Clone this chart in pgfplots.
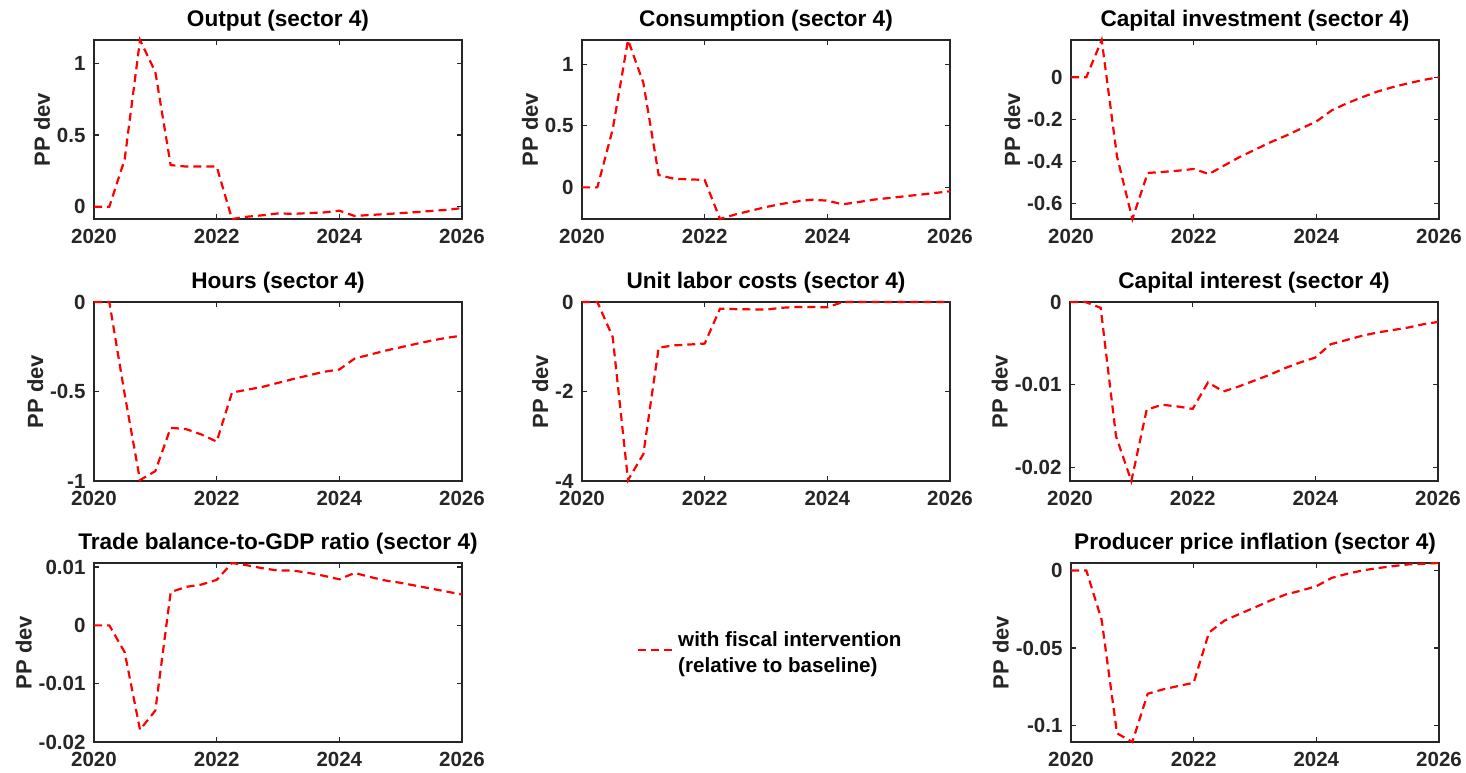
\documentclass[border=0pt]{standalone}
\usepackage{fontspec}
\setmainfont{Liberation Sans}
\usepackage{pgfplots}
\pgfplotsset{compat=1.18}
\definecolor{axcol}{HTML}{262626}
\pgfplotsset{
 panel/.style={
  scale only axis, width=368pt, height=179pt,
  xmin=2020, xmax=2026,
  xtick={2020,2022,2024,2026}, xticklabels={2020,2022,2024,2026},
  scaled ticks=false,
  tick align=inside, major tick length=5pt,
  axis line style={draw=axcol, line width=1.6pt},
  every tick/.style={draw=axcol, line width=1.2pt},
  tick label style={font=\fontsize{20.5}{21}\selectfont\bfseries, text=axcol},
  yticklabel style={xshift=-5pt},
  xticklabel style={yshift=-7pt},
  title style={font=\fontsize{22.6}{23}\selectfont\bfseries, at={(0.5,1)}, anchor=base, yshift=7pt, text=black},
  ylabel={PP dev},
  ylabel style={font=\fontsize{22}{23}\selectfont\bfseries, text=axcol},
  clip=false,
 },
 irf/.style={red, line width=2.2pt, dash pattern=on 8pt off 5pt},
}
\begin{document}
\begin{tikzpicture}
\path[use as bounding box] (0,0) rectangle (1466pt,773pt);
% Output
\begin{axis}[panel, at={(94pt,554pt)}, anchor=south west, title={Output (sector 4)},
 ymin=-0.086, ymax=1.163, ytick={0,0.5,1}, yticklabels={0,0.5,1}]
\addplot[irf] coordinates {(2020,0) (2020.25,0) (2020.5,0.33) (2020.75,1.163) (2021,0.94) (2021.25,0.29) (2021.5,0.28) (2021.75,0.28) (2022,0.28) (2022.25,-0.086) (2022.5,-0.07) (2022.75,-0.06) (2023,-0.047) (2023.25,-0.05) (2023.5,-0.045) (2023.75,-0.04) (2024,-0.028) (2024.25,-0.065) (2024.5,-0.058) (2024.75,-0.052) (2025,-0.045) (2025.25,-0.038) (2025.5,-0.03) (2025.75,-0.022) (2026,-0.01)};
\end{axis}
% Consumption
\begin{axis}[panel, at={(582pt,554pt)}, anchor=south west, title={Consumption (sector 4)},
 ymin=-0.257, ymax=1.197, ytick={0,0.5,1}, yticklabels={0,0.5,1}]
\addplot[irf] coordinates {(2020,0) (2020.25,0) (2020.5,0.47) (2020.75,1.197) (2021,0.85) (2021.25,0.10) (2021.5,0.07) (2021.75,0.065) (2022,0.06) (2022.25,-0.257) (2022.5,-0.22) (2022.75,-0.19) (2023,-0.16) (2023.25,-0.135) (2023.5,-0.115) (2023.75,-0.10) (2024,-0.108) (2024.25,-0.138) (2024.5,-0.12) (2024.75,-0.10) (2025,-0.087) (2025.25,-0.073) (2025.5,-0.06) (2025.75,-0.046) (2026,-0.032)};
\end{axis}
% Capital investment
\begin{axis}[panel, at={(1071pt,554pt)}, anchor=south west, title={Capital investment (sector 4)},
 ymin=-0.675, ymax=0.177, ytick={-0.6,-0.4,-0.2,0}, yticklabels={-0.6,-0.4,-0.2,0}]
\addplot[irf] coordinates {(2020,0) (2020.25,0) (2020.5,0.177) (2020.75,-0.377) (2021,-0.675) (2021.25,-0.456) (2021.5,-0.451) (2021.75,-0.445) (2022,-0.437) (2022.25,-0.461) (2022.5,-0.42) (2022.75,-0.38) (2023,-0.345) (2023.25,-0.31) (2023.5,-0.279) (2023.75,-0.245) (2024,-0.211) (2024.25,-0.158) (2024.5,-0.124) (2024.75,-0.095) (2025,-0.068) (2025.25,-0.047) (2025.5,-0.029) (2025.75,-0.013) (2026,0)};
\end{axis}
% Hours
\begin{axis}[panel, at={(94pt,292pt)}, anchor=south west, title={Hours (sector 4)},
 ymin=-1, ymax=0, ytick={-1,-0.5,0}, yticklabels={-1,-0.5,0}]
\addplot[irf] coordinates {(2020,0) (2020.25,0) (2020.5,-0.515) (2020.75,-0.995) (2021,-0.945) (2021.25,-0.703) (2021.5,-0.71) (2021.75,-0.74) (2022,-0.78) (2022.25,-0.506) (2022.5,-0.49) (2022.75,-0.474) (2023,-0.452) (2023.25,-0.43) (2023.5,-0.41) (2023.75,-0.39) (2024,-0.377) (2024.25,-0.316) (2024.5,-0.294) (2024.75,-0.272) (2025,-0.253) (2025.25,-0.234) (2025.5,-0.216) (2025.75,-0.2) (2026,-0.188)};
\end{axis}
% Unit labor costs
\begin{axis}[panel, at={(582pt,292pt)}, anchor=south west, title={Unit labor costs (sector 4)},
 ymin=-4, ymax=0, ytick={-4,-2,0}, yticklabels={-4,-2,0}]
\addplot[irf] coordinates {(2020,0) (2020.25,0) (2020.5,-0.78) (2020.75,-3.98) (2021,-3.4) (2021.25,-1.02) (2021.5,-0.97) (2021.75,-0.95) (2022,-0.93) (2022.25,-0.15) (2022.5,-0.16) (2022.75,-0.165) (2023,-0.17) (2023.25,-0.13) (2023.5,-0.11) (2023.75,-0.11) (2024,-0.12) (2024.25,0) (2024.5,0) (2024.75,0) (2025,0) (2025.25,0) (2025.5,0) (2025.75,0) (2026,0)};
\end{axis}
% Capital interest
\begin{axis}[panel, at={(1070pt,292pt)}, anchor=south west, title={Capital interest (sector 4)},
 ymin=-0.0216, ymax=0, ytick={-0.02,-0.01,0}, yticklabels={-0.02,-0.01,0}]
\addplot[irf] coordinates {(2020,0) (2020.25,0) (2020.5,-0.0007) (2020.75,-0.0162) (2021,-0.0216) (2021.25,-0.013) (2021.5,-0.0124) (2021.75,-0.0126) (2022,-0.0129) (2022.25,-0.0097) (2022.5,-0.0108) (2022.75,-0.0102) (2023,-0.0095) (2023.25,-0.0088) (2023.5,-0.008) (2023.75,-0.0073) (2024,-0.0067) (2024.25,-0.0051) (2024.5,-0.0046) (2024.75,-0.0041) (2025,-0.0037) (2025.25,-0.0034) (2025.5,-0.0031) (2025.75,-0.0027) (2026,-0.0024)};
\end{axis}
% Trade balance
\begin{axis}[panel, at={(94pt,31pt)}, anchor=south west, title={Trade balance-to-GDP ratio (sector 4)},
 ymin=-0.02, ymax=0.0107, ytick={-0.02,-0.01,0,0.01}, yticklabels={-0.02,-0.01,0,0.01}]
\addplot[irf] coordinates {(2020,0) (2020.25,0) (2020.5,-0.0046) (2020.75,-0.0179) (2021,-0.0146) (2021.25,0.0057) (2021.5,0.0066) (2021.75,0.007) (2022,0.0078) (2022.25,0.0107) (2022.5,0.0103) (2022.75,0.0098) (2023,0.0094) (2023.25,0.0094) (2023.5,0.009) (2023.75,0.0085) (2024,0.0079) (2024.25,0.009) (2024.5,0.0083) (2024.75,0.0077) (2025,0.0073) (2025.25,0.0068) (2025.5,0.0063) (2025.75,0.0058) (2026,0.0053)};
\end{axis}
% Legend (empty hidden axis)
\begin{axis}[scale only axis, width=368pt, height=179pt, at={(582pt,31pt)}, anchor=south west,
 hide axis, xmin=0, xmax=1, ymin=0, ymax=1,
 legend style={at={(axis description cs:0.149,0.545)}, anchor=west, draw=none, fill=none,
   inner sep=0pt, font=\fontsize{20.6}{26}\selectfont\bfseries},
 legend cell align=left,
 legend image code/.code={\draw[#1] (0pt,-5.5pt) -- (37pt,-5.5pt);}]
\addlegendimage{irf}
\addlegendentry{\begin{tabular}[c]{@{}l@{}}with fiscal intervention\\(relative to baseline)\end{tabular}}
\end{axis}
% Producer price inflation
\begin{axis}[panel, at={(1071pt,31pt)}, anchor=south west, title={Producer price inflation (sector 4)},
 ymin=-0.1106, ymax=0.0048, ytick={-0.1,-0.05,0}, yticklabels={-0.1,-0.05,0}]
\addplot[irf] coordinates {(2020,0) (2020.25,0) (2020.5,-0.032) (2020.75,-0.105) (2021,-0.1106) (2021.25,-0.0795) (2021.5,-0.0767) (2021.75,-0.0745) (2022,-0.0724) (2022.25,-0.040) (2022.5,-0.0324) (2022.75,-0.028) (2023,-0.0238) (2023.25,-0.0194) (2023.5,-0.0155) (2023.75,-0.013) (2024,-0.0102) (2024.25,-0.0048) (2024.5,-0.0022) (2024.75,0) (2025,0.0015) (2025.25,0.0028) (2025.5,0.0039) (2025.75,0.0043) (2026,0.0048)};
\end{axis}
\end{tikzpicture}
\end{document}
